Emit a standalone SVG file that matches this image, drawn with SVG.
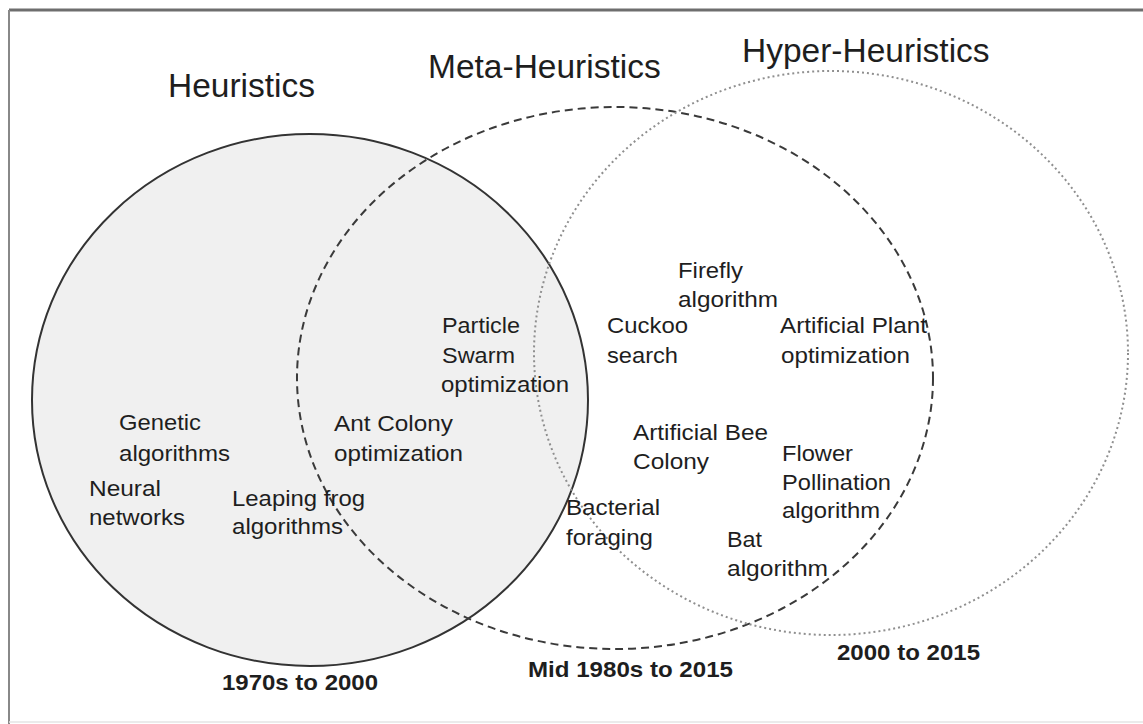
<svg xmlns="http://www.w3.org/2000/svg" width="1143" height="724" viewBox="0 0 1143 724">
<style>
text{font-family:"Liberation Sans",Arial,sans-serif;fill:#1e1e1e}
.h{font-size:33.5px}
.n{font-size:22px}
.b{font-size:22px;font-weight:bold}
.solid{fill:#f0f0f0;stroke:#333;stroke-width:2}
.dash{fill:none;stroke:#3a3a3a;stroke-width:2;stroke-dasharray:8 5}
.dot{fill:none;stroke:#8f8f8f;stroke-width:2;stroke-dasharray:2 3}
</style>
<rect x="0" y="0" width="1143" height="724" fill="#fff"/>
<line x1="9" y1="10" x2="1143" y2="10" stroke="#6e6e6e" stroke-width="3"/>
<line x1="9" y1="10" x2="9" y2="724" stroke="#888" stroke-width="2"/>
<line x1="9" y1="722" x2="1143" y2="722" stroke="#e4e4e4" stroke-width="1.5"/>
<g id="heuristics"><ellipse class="solid" cx="310" cy="400" rx="278" ry="266"/></g>
<g id="meta-heuristics"><ellipse class="dash" cx="615" cy="378" rx="318" ry="271"/></g>
<g id="hyper-heuristics"><ellipse class="dot" cx="831" cy="353" rx="297" ry="282"/></g>
<g id="connectors"/>
<g id="titles">
<text class="h" x="168" y="97">Heuristics</text>
<text class="h" x="428" y="78">Meta-Heuristics</text>
<text class="h" x="742" y="62">Hyper-Heuristics</text>
</g>
<g id="genetic"><text class="n" x="119" y="430" textLength="82" lengthAdjust="spacingAndGlyphs">Genetic</text><text class="n" x="119" y="461" textLength="111" lengthAdjust="spacingAndGlyphs">algorithms</text></g>
<g id="neural"><text class="n" x="89" y="496" textLength="72" lengthAdjust="spacingAndGlyphs">Neural</text><text class="n" x="89" y="525" textLength="96" lengthAdjust="spacingAndGlyphs">networks</text></g>
<g id="leaping"><text class="n" x="232" y="506" textLength="133" lengthAdjust="spacingAndGlyphs">Leaping frog</text><text class="n" x="232" y="534" textLength="111" lengthAdjust="spacingAndGlyphs">algorithms</text></g>
<g id="ant"><text class="n" x="334" y="431" textLength="119" lengthAdjust="spacingAndGlyphs">Ant Colony</text><text class="n" x="334" y="461" textLength="129" lengthAdjust="spacingAndGlyphs">optimization</text></g>
<g id="pso"><text class="n" x="442" y="333" textLength="78" lengthAdjust="spacingAndGlyphs">Particle</text><text class="n" x="442" y="363" textLength="73" lengthAdjust="spacingAndGlyphs">Swarm</text><text class="n" x="441" y="392" textLength="128" lengthAdjust="spacingAndGlyphs">optimization</text></g>
<g id="firefly"><text class="n" x="678" y="278" textLength="65" lengthAdjust="spacingAndGlyphs">Firefly</text><text class="n" x="678" y="307" textLength="100" lengthAdjust="spacingAndGlyphs">algorithm</text></g>
<g id="cuckoo"><text class="n" x="607" y="333" textLength="81" lengthAdjust="spacingAndGlyphs">Cuckoo</text><text class="n" x="607" y="363" textLength="71" lengthAdjust="spacingAndGlyphs">search</text></g>
<g id="plant"><text class="n" x="780" y="333" textLength="147" lengthAdjust="spacingAndGlyphs">Artificial Plant</text><text class="n" x="781" y="363" textLength="129" lengthAdjust="spacingAndGlyphs">optimization</text></g>
<g id="bee"><text class="n" x="633" y="440" textLength="135" lengthAdjust="spacingAndGlyphs">Artificial Bee</text><text class="n" x="633" y="469" textLength="76" lengthAdjust="spacingAndGlyphs">Colony</text></g>
<g id="flower"><text class="n" x="782" y="461" textLength="71" lengthAdjust="spacingAndGlyphs">Flower</text><text class="n" x="782" y="490" textLength="109" lengthAdjust="spacingAndGlyphs">Pollination</text><text class="n" x="782" y="518" textLength="98" lengthAdjust="spacingAndGlyphs">algorithm</text></g>
<g id="bacterial"><text class="n" x="566" y="515" textLength="94" lengthAdjust="spacingAndGlyphs">Bacterial</text><text class="n" x="566" y="545" textLength="87" lengthAdjust="spacingAndGlyphs">foraging</text></g>
<g id="bat"><text class="n" x="727" y="547" textLength="35" lengthAdjust="spacingAndGlyphs">Bat</text><text class="n" x="727" y="576" textLength="101" lengthAdjust="spacingAndGlyphs">algorithm</text></g>
<g id="periods">
<text class="b" x="222" y="690" textLength="156" lengthAdjust="spacingAndGlyphs">1970s to 2000</text>
<text class="b" x="528" y="677" textLength="205" lengthAdjust="spacingAndGlyphs">Mid 1980s to 2015</text>
<text class="b" x="837" y="660" textLength="143" lengthAdjust="spacingAndGlyphs">2000 to 2015</text>
</g>
</svg>
